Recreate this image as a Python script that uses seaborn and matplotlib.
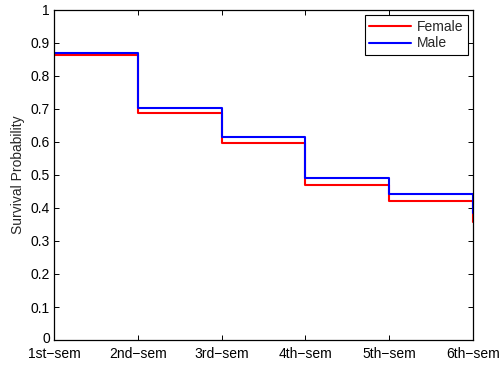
import matplotlib
matplotlib.use("Agg")
import matplotlib.pyplot as plt
import matplotlib.transforms as mtransforms
import seaborn as sns
import pandas as pd

semesters = ["1st\u2212sem", "2nd\u2212sem", "3rd\u2212sem", "4th\u2212sem", "5th\u2212sem", "6th\u2212sem"]
female = [0.862, 0.689, 0.598, 0.469, 0.420, 0.358]
male = [0.870, 0.704, 0.616, 0.490, 0.442, 0.385]
yticks = [0, 0.1, 0.2, 0.3, 0.4, 0.5, 0.6, 0.7, 0.8, 0.9, 1]
ytick_labels = ["0", "0.1", "0.2", "0.3", "0.4", "0.5", "0.6", "0.7", "0.8", "0.9", "1"]

df = pd.DataFrame({
    "t": list(range(len(semesters))) * 2,
    "p": female + male,
    "group": ["Female"] * len(female) + ["Male"] * len(male),
})

sns.set_style("white")
plt.rcParams["font.family"] = ["Liberation Sans", "DejaVu Sans"]
fs = 10

fig = plt.figure(figsize=(5.04, 3.66), dpi=100)
ax = fig.add_axes([0.107, 0.071, 0.8315, 0.902])

sns.lineplot(data=df, x="t", y="p", hue="group",
             palette={"Female": "#ff0000", "Male": "#0000ff"},
             drawstyle="steps-post", linewidth=1.5, ax=ax, legend=False)

ax.set_xlim(0, len(semesters) - 1)
ax.set_ylim(0, 1)
ax.set_xticks(range(len(semesters)))
ax.set_xticklabels(semesters)
ax.set_yticks(yticks)
ax.set_yticklabels(ytick_labels)
ax.set_xlabel("")
ax.set_ylabel("Survival Probability", fontsize=fs, labelpad=4)

for s in ax.spines.values():
    s.set_visible(True)
    s.set_color("black")
    s.set_linewidth(0.9)
ax.tick_params(direction="in", length=3.5, width=0.7, top=True, right=True,
               bottom=True, left=True, labelsize=fs, pad=3, colors="black")
ax.tick_params(axis="x", pad=5)

# lift the "0" label a touch so it clears the first category label
zero_lbl = ax.get_yticklabels()[0]
zero_lbl.set_transform(zero_lbl.get_transform() +
                       mtransforms.ScaledTranslation(0, 3 / 100, fig.dpi_scale_trans))

handles = [plt.Line2D([], [], color="#ff0000", lw=1.5),
           plt.Line2D([], [], color="#0000ff", lw=1.5)]
leg = ax.legend(handles, ["Female", "Male"], loc="upper right",
                bbox_to_anchor=(0.988, 0.985), fancybox=False, framealpha=1,
                edgecolor="black", borderpad=0.35, handlelength=3.0,
                handletextpad=0.4, labelspacing=0.2, fontsize=fs,
                borderaxespad=0)
leg.get_frame().set_linewidth(0.8)

fig.savefig("out.png", dpi=100)
